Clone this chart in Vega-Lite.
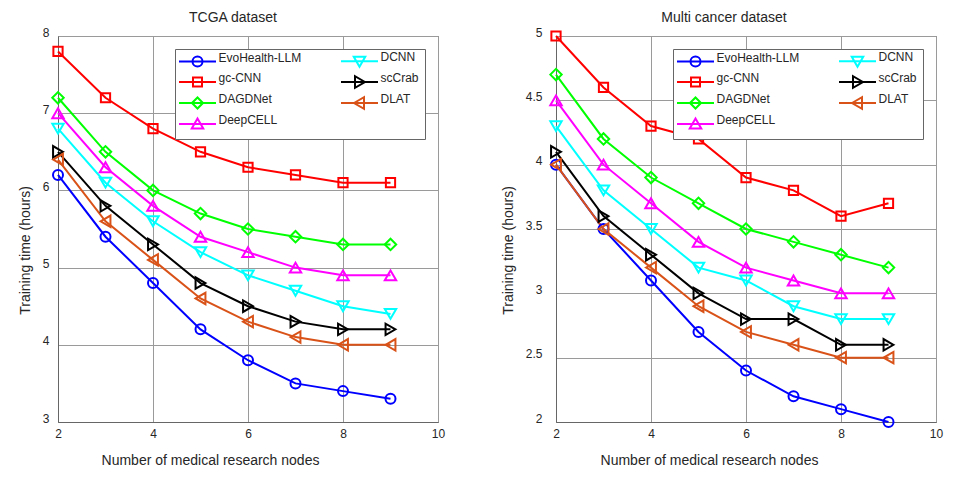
{
  "$schema": "https://vega.github.io/schema/vega-lite/v6.json",
  "background": "white",
  "padding": {"left": 17, "top": 10, "right": 5, "bottom": 5},
  "config": {
    "font": "Liberation Sans",
    "view": {"stroke": "#666666", "strokeWidth": 1},
    "title": {"fontSize": 14, "fontWeight": "normal", "color": "#262626", "offset": 1},
    "axis": {
      "grid": true,
      "gridColor": "#9a9a9a",
      "gridWidth": 1,
      "domainColor": "#666666",
      "ticks": false,
      "labelFlush": false,
      "labelFontSize": 12,
      "labelColor": "#262626",
      "titleFontSize": 14,
      "titleFontWeight": "normal",
      "titleColor": "#262626"
    },
    "legend": {
      "orient": "top-right",
      "offset": 13,
      "columns": 2,
      "padding": 6,
      "strokeColor": "#666666",
      "fillColor": "white",
      "symbolSize": 100,
      "symbolStrokeWidth": 2,
      "symbolOpacity": 1,
      "symbolFillColor": "transparent",
      "symbolOffset": 10.5,
      "labelOffset": 15,
      "labelBaseline": "alphabetic",
      "columnPadding": 35,
      "rowPadding": 1,
      "labelFontSize": 12,
      "labelColor": "#262626"
    }
  },
  "datasets": {
    "tcga": [
      {"nodes": 2, "method": "EvoHealth-LLM", "hours": 6.2},
      {"nodes": 3, "method": "EvoHealth-LLM", "hours": 5.4},
      {"nodes": 4, "method": "EvoHealth-LLM", "hours": 4.8},
      {"nodes": 5, "method": "EvoHealth-LLM", "hours": 4.2},
      {"nodes": 6, "method": "EvoHealth-LLM", "hours": 3.8},
      {"nodes": 7, "method": "EvoHealth-LLM", "hours": 3.5},
      {"nodes": 8, "method": "EvoHealth-LLM", "hours": 3.4},
      {"nodes": 9, "method": "EvoHealth-LLM", "hours": 3.3},
      {"nodes": 2, "method": "gc-CNN", "hours": 7.8},
      {"nodes": 3, "method": "gc-CNN", "hours": 7.2},
      {"nodes": 4, "method": "gc-CNN", "hours": 6.8},
      {"nodes": 5, "method": "gc-CNN", "hours": 6.5},
      {"nodes": 6, "method": "gc-CNN", "hours": 6.3},
      {"nodes": 7, "method": "gc-CNN", "hours": 6.2},
      {"nodes": 8, "method": "gc-CNN", "hours": 6.1},
      {"nodes": 9, "method": "gc-CNN", "hours": 6.1},
      {"nodes": 2, "method": "DAGDNet", "hours": 7.2},
      {"nodes": 3, "method": "DAGDNet", "hours": 6.5},
      {"nodes": 4, "method": "DAGDNet", "hours": 6.0},
      {"nodes": 5, "method": "DAGDNet", "hours": 5.7},
      {"nodes": 6, "method": "DAGDNet", "hours": 5.5},
      {"nodes": 7, "method": "DAGDNet", "hours": 5.4},
      {"nodes": 8, "method": "DAGDNet", "hours": 5.3},
      {"nodes": 9, "method": "DAGDNet", "hours": 5.3},
      {"nodes": 2, "method": "DeepCELL", "hours": 7.0},
      {"nodes": 3, "method": "DeepCELL", "hours": 6.3},
      {"nodes": 4, "method": "DeepCELL", "hours": 5.8},
      {"nodes": 5, "method": "DeepCELL", "hours": 5.4},
      {"nodes": 6, "method": "DeepCELL", "hours": 5.2},
      {"nodes": 7, "method": "DeepCELL", "hours": 5.0},
      {"nodes": 8, "method": "DeepCELL", "hours": 4.9},
      {"nodes": 9, "method": "DeepCELL", "hours": 4.9},
      {"nodes": 2, "method": "DCNN", "hours": 6.8},
      {"nodes": 3, "method": "DCNN", "hours": 6.1},
      {"nodes": 4, "method": "DCNN", "hours": 5.6},
      {"nodes": 5, "method": "DCNN", "hours": 5.2},
      {"nodes": 6, "method": "DCNN", "hours": 4.9},
      {"nodes": 7, "method": "DCNN", "hours": 4.7},
      {"nodes": 8, "method": "DCNN", "hours": 4.5},
      {"nodes": 9, "method": "DCNN", "hours": 4.4},
      {"nodes": 2, "method": "scCrab", "hours": 6.5},
      {"nodes": 3, "method": "scCrab", "hours": 5.8},
      {"nodes": 4, "method": "scCrab", "hours": 5.3},
      {"nodes": 5, "method": "scCrab", "hours": 4.8},
      {"nodes": 6, "method": "scCrab", "hours": 4.5},
      {"nodes": 7, "method": "scCrab", "hours": 4.3},
      {"nodes": 8, "method": "scCrab", "hours": 4.2},
      {"nodes": 9, "method": "scCrab", "hours": 4.2},
      {"nodes": 2, "method": "DLAT", "hours": 6.4},
      {"nodes": 3, "method": "DLAT", "hours": 5.6},
      {"nodes": 4, "method": "DLAT", "hours": 5.1},
      {"nodes": 5, "method": "DLAT", "hours": 4.6},
      {"nodes": 6, "method": "DLAT", "hours": 4.3},
      {"nodes": 7, "method": "DLAT", "hours": 4.1},
      {"nodes": 8, "method": "DLAT", "hours": 4.0},
      {"nodes": 9, "method": "DLAT", "hours": 4.0}
    ],
    "multi": [
      {"nodes": 2, "method": "EvoHealth-LLM", "hours": 4.0},
      {"nodes": 3, "method": "EvoHealth-LLM", "hours": 3.5},
      {"nodes": 4, "method": "EvoHealth-LLM", "hours": 3.1},
      {"nodes": 5, "method": "EvoHealth-LLM", "hours": 2.7},
      {"nodes": 6, "method": "EvoHealth-LLM", "hours": 2.4},
      {"nodes": 7, "method": "EvoHealth-LLM", "hours": 2.2},
      {"nodes": 8, "method": "EvoHealth-LLM", "hours": 2.1},
      {"nodes": 9, "method": "EvoHealth-LLM", "hours": 2.0},
      {"nodes": 2, "method": "gc-CNN", "hours": 5.0},
      {"nodes": 3, "method": "gc-CNN", "hours": 4.6},
      {"nodes": 4, "method": "gc-CNN", "hours": 4.3},
      {"nodes": 5, "method": "gc-CNN", "hours": 4.2},
      {"nodes": 6, "method": "gc-CNN", "hours": 3.9},
      {"nodes": 7, "method": "gc-CNN", "hours": 3.8},
      {"nodes": 8, "method": "gc-CNN", "hours": 3.6},
      {"nodes": 9, "method": "gc-CNN", "hours": 3.7},
      {"nodes": 2, "method": "DAGDNet", "hours": 4.7},
      {"nodes": 3, "method": "DAGDNet", "hours": 4.2},
      {"nodes": 4, "method": "DAGDNet", "hours": 3.9},
      {"nodes": 5, "method": "DAGDNet", "hours": 3.7},
      {"nodes": 6, "method": "DAGDNet", "hours": 3.5},
      {"nodes": 7, "method": "DAGDNet", "hours": 3.4},
      {"nodes": 8, "method": "DAGDNet", "hours": 3.3},
      {"nodes": 9, "method": "DAGDNet", "hours": 3.2},
      {"nodes": 2, "method": "DeepCELL", "hours": 4.5},
      {"nodes": 3, "method": "DeepCELL", "hours": 4.0},
      {"nodes": 4, "method": "DeepCELL", "hours": 3.7},
      {"nodes": 5, "method": "DeepCELL", "hours": 3.4},
      {"nodes": 6, "method": "DeepCELL", "hours": 3.2},
      {"nodes": 7, "method": "DeepCELL", "hours": 3.1},
      {"nodes": 8, "method": "DeepCELL", "hours": 3.0},
      {"nodes": 9, "method": "DeepCELL", "hours": 3.0},
      {"nodes": 2, "method": "DCNN", "hours": 4.3},
      {"nodes": 3, "method": "DCNN", "hours": 3.8},
      {"nodes": 4, "method": "DCNN", "hours": 3.5},
      {"nodes": 5, "method": "DCNN", "hours": 3.2},
      {"nodes": 6, "method": "DCNN", "hours": 3.1},
      {"nodes": 7, "method": "DCNN", "hours": 2.9},
      {"nodes": 8, "method": "DCNN", "hours": 2.8},
      {"nodes": 9, "method": "DCNN", "hours": 2.8},
      {"nodes": 2, "method": "scCrab", "hours": 4.1},
      {"nodes": 3, "method": "scCrab", "hours": 3.6},
      {"nodes": 4, "method": "scCrab", "hours": 3.3},
      {"nodes": 5, "method": "scCrab", "hours": 3.0},
      {"nodes": 6, "method": "scCrab", "hours": 2.8},
      {"nodes": 7, "method": "scCrab", "hours": 2.8},
      {"nodes": 8, "method": "scCrab", "hours": 2.6},
      {"nodes": 9, "method": "scCrab", "hours": 2.6},
      {"nodes": 2, "method": "DLAT", "hours": 4.0},
      {"nodes": 3, "method": "DLAT", "hours": 3.5},
      {"nodes": 4, "method": "DLAT", "hours": 3.2},
      {"nodes": 5, "method": "DLAT", "hours": 2.9},
      {"nodes": 6, "method": "DLAT", "hours": 2.7},
      {"nodes": 7, "method": "DLAT", "hours": 2.6},
      {"nodes": 8, "method": "DLAT", "hours": 2.5},
      {"nodes": 9, "method": "DLAT", "hours": 2.5}
    ]
  },
  "hconcat": [
    {
      "width": 380,
      "height": 386,
      "title": {"text": "TCGA dataset", "dx": -15},
      "data": {"name": "tcga"},
      "encoding": {
        "x": {"field": "nodes", "type": "quantitative", "scale": {"domain": [2, 10], "nice": false},
          "axis": {"values": [2, 4, 6, 8, 10], "title": "Number of medical research nodes", "labelPadding": 6, "titlePadding": 14, "titleX": 152}},
        "y": {"field": "hours", "type": "quantitative", "scale": {"domain": [3, 8], "nice": false, "zero": false},
          "axis": {"values": [3, 4, 5, 6, 7, 8], "format": "~g", "title": "Training time (hours)", "labelPadding": 9, "labelOffset": -4, "titlePadding": 10, "titleY": 214}}
      },
      "layer": [
        {
          "mark": {"type": "line", "strokeWidth": 2},
          "encoding": {
            "color": {"field": "method", "type": "nominal", "legend": {"title": null},
              "scale": {"domain": ["EvoHealth-LLM", "gc-CNN", "DAGDNet", "DeepCELL", "DCNN", "scCrab", "DLAT"],
                "range": ["#0000ff", "#ff0000", "#00ff00", "#ff00ff", "#00ffff", "#000000", "#d95319"]}}
          }
        },
        {"transform": [{"filter": "datum.method === 'EvoHealth-LLM'"}], "mark": {"type": "point", "shape": "circle", "color": "#0000ff", "filled": false, "strokeWidth": 2, "size": 100, "opacity": 1}},
        {"transform": [{"filter": "datum.method === 'gc-CNN'"}], "mark": {"type": "point", "shape": "square", "color": "#ff0000", "filled": false, "strokeWidth": 2, "size": 85, "opacity": 1}},
        {"transform": [{"filter": "datum.method === 'DAGDNet'"}], "mark": {"type": "point", "shape": "diamond", "color": "#00ff00", "filled": false, "strokeWidth": 2, "size": 130, "opacity": 1}},
        {"transform": [{"filter": "datum.method === 'DeepCELL'"}], "mark": {"type": "point", "shape": "triangle-up", "color": "#ff00ff", "filled": false, "strokeWidth": 2, "size": 130, "opacity": 1}},
        {"transform": [{"filter": "datum.method === 'DCNN'"}], "mark": {"type": "point", "shape": "triangle-down", "color": "#00ffff", "filled": false, "strokeWidth": 2, "size": 130, "opacity": 1}},
        {"transform": [{"filter": "datum.method === 'scCrab'"}], "mark": {"type": "point", "shape": "triangle-right", "color": "#000000", "filled": false, "strokeWidth": 2, "size": 130, "opacity": 1}},
        {"transform": [{"filter": "datum.method === 'DLAT'"}], "mark": {"type": "point", "shape": "triangle-left", "color": "#d95319", "filled": false, "strokeWidth": 2, "size": 130, "opacity": 1}},
        {
          "mark": {"type": "point", "filled": false, "strokeWidth": 2, "size": 100, "opacity": 0},
          "encoding": {
            "color": {"field": "method", "type": "nominal", "legend": {"title": null},
              "scale": {"domain": ["EvoHealth-LLM", "gc-CNN", "DAGDNet", "DeepCELL", "DCNN", "scCrab", "DLAT"],
                "range": ["#0000ff", "#ff0000", "#00ff00", "#ff00ff", "#00ffff", "#000000", "#d95319"]}},
            "shape": {"field": "method", "type": "nominal", "legend": {"title": null},
              "scale": {"domain": ["EvoHealth-LLM", "gc-CNN", "DAGDNet", "DeepCELL", "DCNN", "scCrab", "DLAT"],
                "range": [
                  "M-3.7,0H3.7M1,0A1,1,0,1,1,-1,0A1,1,0,1,1,1,0Z",
                  "M-3.7,0H3.7M-0.9,-0.9H0.9V0.9H-0.9Z",
                  "M-3.7,0H3.7M-1.1,0L0,-1.1L1.1,0L0,1.1Z",
                  "M-3.7,0H3.7M0,-1.1L1.15,0.9L-1.15,0.9Z",
                  "M-3.7,0H3.7M0,1.1L1.15,-0.9L-1.15,-0.9Z",
                  "M-3.7,0H3.7M1.1,0L-0.9,-1.15L-0.9,1.15Z",
                  "M-3.7,0H3.7M-1.1,0L0.9,-1.15L0.9,1.15Z"
                ]}}
          }
        }
      ]
    },
    {
      "width": 380,
      "height": 386,
      "title": {"text": "Multi cancer dataset", "dx": -22},
      "data": {"name": "multi"},
      "encoding": {
        "x": {"field": "nodes", "type": "quantitative", "scale": {"domain": [2, 10], "nice": false},
          "axis": {"values": [2, 4, 6, 8, 10], "title": "Number of medical research nodes", "labelPadding": 6, "titlePadding": 14, "titleX": 153}},
        "y": {"field": "hours", "type": "quantitative", "scale": {"domain": [2, 5], "nice": false, "zero": false},
          "axis": {"values": [2, 2.5, 3, 3.5, 4, 4.5, 5], "format": "~g", "title": "Training time (hours)", "labelPadding": 14, "labelOffset": -4, "titlePadding": 10, "titleY": 214}}
      },
      "layer": [
        {
          "mark": {"type": "line", "strokeWidth": 2},
          "encoding": {
            "color": {"field": "method", "type": "nominal", "legend": {"title": null},
              "scale": {"domain": ["EvoHealth-LLM", "gc-CNN", "DAGDNet", "DeepCELL", "DCNN", "scCrab", "DLAT"],
                "range": ["#0000ff", "#ff0000", "#00ff00", "#ff00ff", "#00ffff", "#000000", "#d95319"]}}
          }
        },
        {"transform": [{"filter": "datum.method === 'EvoHealth-LLM'"}], "mark": {"type": "point", "shape": "circle", "color": "#0000ff", "filled": false, "strokeWidth": 2, "size": 100, "opacity": 1}},
        {"transform": [{"filter": "datum.method === 'gc-CNN'"}], "mark": {"type": "point", "shape": "square", "color": "#ff0000", "filled": false, "strokeWidth": 2, "size": 85, "opacity": 1}},
        {"transform": [{"filter": "datum.method === 'DAGDNet'"}], "mark": {"type": "point", "shape": "diamond", "color": "#00ff00", "filled": false, "strokeWidth": 2, "size": 130, "opacity": 1}},
        {"transform": [{"filter": "datum.method === 'DeepCELL'"}], "mark": {"type": "point", "shape": "triangle-up", "color": "#ff00ff", "filled": false, "strokeWidth": 2, "size": 130, "opacity": 1}},
        {"transform": [{"filter": "datum.method === 'DCNN'"}], "mark": {"type": "point", "shape": "triangle-down", "color": "#00ffff", "filled": false, "strokeWidth": 2, "size": 130, "opacity": 1}},
        {"transform": [{"filter": "datum.method === 'scCrab'"}], "mark": {"type": "point", "shape": "triangle-right", "color": "#000000", "filled": false, "strokeWidth": 2, "size": 130, "opacity": 1}},
        {"transform": [{"filter": "datum.method === 'DLAT'"}], "mark": {"type": "point", "shape": "triangle-left", "color": "#d95319", "filled": false, "strokeWidth": 2, "size": 130, "opacity": 1}},
        {
          "mark": {"type": "point", "filled": false, "strokeWidth": 2, "size": 100, "opacity": 0},
          "encoding": {
            "color": {"field": "method", "type": "nominal", "legend": {"title": null},
              "scale": {"domain": ["EvoHealth-LLM", "gc-CNN", "DAGDNet", "DeepCELL", "DCNN", "scCrab", "DLAT"],
                "range": ["#0000ff", "#ff0000", "#00ff00", "#ff00ff", "#00ffff", "#000000", "#d95319"]}},
            "shape": {"field": "method", "type": "nominal", "legend": {"title": null},
              "scale": {"domain": ["EvoHealth-LLM", "gc-CNN", "DAGDNet", "DeepCELL", "DCNN", "scCrab", "DLAT"],
                "range": [
                  "M-3.7,0H3.7M1,0A1,1,0,1,1,-1,0A1,1,0,1,1,1,0Z",
                  "M-3.7,0H3.7M-0.9,-0.9H0.9V0.9H-0.9Z",
                  "M-3.7,0H3.7M-1.1,0L0,-1.1L1.1,0L0,1.1Z",
                  "M-3.7,0H3.7M0,-1.1L1.15,0.9L-1.15,0.9Z",
                  "M-3.7,0H3.7M0,1.1L1.15,-0.9L-1.15,-0.9Z",
                  "M-3.7,0H3.7M1.1,0L-0.9,-1.15L-0.9,1.15Z",
                  "M-3.7,0H3.7M-1.1,0L0.9,-1.15L0.9,1.15Z"
                ]}}
          }
        }
      ]
    }
  ],
  "spacing": 54,
  "resolve": {
    "scale": {"x": "independent", "y": "independent", "color": "independent", "shape": "independent"},
    "legend": {"color": "independent", "shape": "independent"}
  }
}
